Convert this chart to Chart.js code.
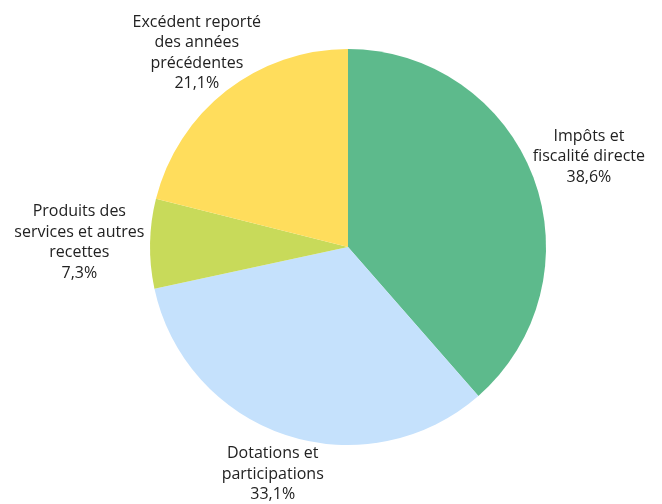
<!DOCTYPE html>
<html lang="fr">
  <head>
    <meta charset="UTF-8" />
    <title>Recettes</title>
    <script src="https://cdn.jsdelivr.net/npm/chart.js"></script>
    <style>
      html, body { margin: 0; padding: 0; background: #fff; }
      #wrap { width: 662px; height: 504px; }
    </style>
  </head>
  <body>
    <div id="wrap"><canvas id="pieChart"></canvas></div>
    <script>
      const labels = [
        ["Impôts et", "fiscalité directe"],
        ["Dotations et", "participations"],
        ["Produits des", "services et autres", "recettes"],
        ["Excédent reporté", "des années", "précédentes"],
      ];
      const values = [38.6, 33.1, 7.3, 21.1];
      const valueLabels = ["38,6%", "33,1%", "7,3%", "21,1%"];
      const colors = ["#5dba8c", "#c5e1fc", "#c8da5a", "#ffdd5c"];

      const FONT = "16px 'Open Sans'";
      const LINE_H = 20.5;
      // extra push of each label block away from the pie
      const labelGap = [-4, -4, 5, -24];

      // labels outside the slices, block pushed out along the mid angle
      const outsideLabels = {
        id: "outsideLabels",
        afterDraw(chart) {
          const ctx = chart.ctx;
          const arcs = chart.getDatasetMeta(0).data;
          ctx.save();
          ctx.font = FONT;
          ctx.fillStyle = "#222";
          ctx.textAlign = "center";
          ctx.textBaseline = "middle";
          arcs.forEach((arc, i) => {
            const lines = labels[i].concat([valueLabels[i]]);
            const w = Math.max(...lines.map((l) => ctx.measureText(l).width));
            const h = lines.length * LINE_H;
            const mid = (arc.startAngle + arc.endAngle) / 2;
            const dx = Math.cos(mid);
            const dy = Math.sin(mid);
            const r = arc.outerRadius + Math.abs(dx) * w / 2 + Math.abs(dy) * h / 2 + labelGap[i];
            const cx = arc.x + dx * r;
            const cy = arc.y + dy * r;
            lines.forEach((l, k) => {
              ctx.fillText(l, cx, cy - h / 2 + LINE_H * (k + 0.5));
            });
          });
          ctx.restore();
        },
      };

      new Chart(document.getElementById("pieChart"), {
        type: "pie",
        data: {
          labels: labels.map((l) => l.join(" ")),
          datasets: [
            {
              data: values,
              backgroundColor: colors,
              borderWidth: 0,
            },
          ],
        },
        options: {
          responsive: true,
          maintainAspectRatio: false,
          animation: false,
          layout: { padding: { left: 150, right: 116, top: 49, bottom: 59 } },
          plugins: {
            legend: { display: false },
            tooltip: { enabled: false },
          },
        },
        plugins: [outsideLabels],
      });
    </script>
  </body>
</html>
